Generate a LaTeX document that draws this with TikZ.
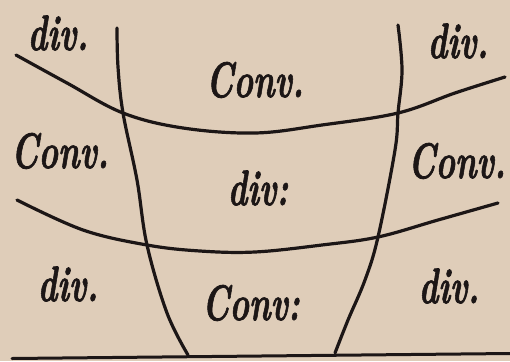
\documentclass[tikz,border=0pt]{standalone}
\usepackage{fontspec}
\newfontfamily\handfont{Latin Modern Roman}[FakeBold=1.6]
\usepackage{graphicx}
\definecolor{paper}{RGB}{223,205,185}
\definecolor{ink}{RGB}{28,22,22}
\newcommand{\hw}[1]{\scalebox{0.66}[1]{\handfont\fontsize{50}{50}\selectfont\bfseries\itshape #1}}
\tikzset{
  curve/.style={draw=ink, line width=3.2pt, line cap=round, line join=round},
  lbl/.style={text=ink, inner sep=0pt, anchor=center}
}
\begin{document}
\begin{tikzpicture}[x=1pt,y=-1pt]
\fill[paper] (0,0) rectangle (510,361);
\useasboundingbox (0,0) rectangle (510,361);
% upper horizontal curve
\draw[curve] plot[smooth, tension=0.6] coordinates {(16,55) (67,83) (123,113) (183,128) (255,133) (322,125) (398,113) (455,93) (505,77)};
% lower horizontal curve
\draw[curve] plot[smooth, tension=0.6] coordinates {(17,200) (83,230) (147,245) (200,251) (255,252) (322,245) (378,237) (438,220) (498,203)};
% left vertical curve
\draw[curve] plot[smooth, tension=0.6] coordinates {(117,28) (118,67) (123,113) (137,180) (147,245) (167,313) (188,355)};
% right vertical curve
\draw[curve] plot[smooth, tension=0.6] coordinates {(398,25) (402,70) (398,113) (395,150) (378,237) (365,280) (348,320) (335,353)};
% bottom line
\draw[curve, line width=3pt] (12,358.5) -- (510,353.5);
% labels
\node[lbl] (d1) at (58,33) {\hw{div.}};
\node[lbl] (c1) at (255,80) {\hw{Conv.}};
\node[lbl] (d2) at (458,41) {\hw{div.}};
\node[lbl] (c2) at (60,151) {\hw{Conv.}};
\node[lbl] (d3) at (258,188) {\hw{div:}};
\node[lbl] (c3) at (457,161) {\hw{Conv.}};
\node[lbl] (d4) at (68,284) {\hw{div.}};
\node[lbl] (c4) at (251,303) {\hw{Conv:}};
\node[lbl] (d5) at (449,286) {\hw{div.}};
\end{tikzpicture}
\end{document}
